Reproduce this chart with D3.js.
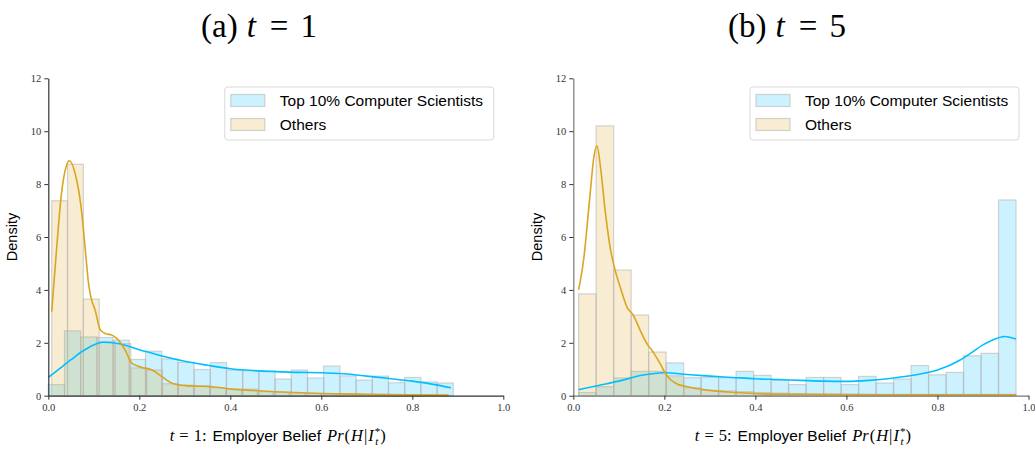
<!DOCTYPE html>
<html>
<head>
<meta charset="utf-8">
<script src="https://cdn.jsdelivr.net/npm/d3@7"></script>
<style>
  body { margin: 0; background: #fff; }
  svg { display: block; }
</style>
</head>
<body>
<div id="chart"></div>
<script>
// ---- data ----
const yTicks = [0, 2, 4, 6, 8, 10, 12];
const xTicks = [0.0, 0.2, 0.4, 0.6, 0.8, 1.0];
const seriesNames = ['Top 10% Computer Scientists', 'Others'];

// t = 1 histograms (density per bin), bins spread evenly over [lo, hi]
const t1TopRange = [0.0, 0.89];
const t1TopDensity = [0.42, 2.45, 2.22, 2.2, 2.1, 1.37, 1.68, 1.39, 1.26, 0.99, 1.25, 0.96,
  0.94, 0.94, 0.63, 0.97, 0.67, 1.12, 0.75, 0.59, 0.74, 0.49, 0.69, 0.52, 0.48];
const t1OthRange = [0.0075, 0.877];
const t1OthDensity = [7.37, 8.75, 3.65, 2.05, 1.97, 1.05, 0.97, 0.45, 0.4, 0.38, 0.3, 0.25,
  0.25, 0.15, 0.12, 0.1, 0.08, 0.06, 0.05, 0.04, 0.03, 0.03, 0.02, 0.02, 0.01];

// t = 1 KDE curves
const t1TopKdeX = [0.0, 0.025, 0.05, 0.075, 0.1, 0.12, 0.15, 0.2, 0.25, 0.3, 0.35, 0.4, 0.45,
  0.5, 0.55, 0.6, 0.65, 0.7, 0.75, 0.8, 0.85, 0.885];
const t1TopKdeY = [0.69, 1.02, 1.36, 1.68, 1.92, 2.02, 1.98, 1.74, 1.5, 1.3, 1.15, 1.02, 0.95,
  0.91, 0.88, 0.87, 0.83, 0.74, 0.65, 0.55, 0.42, 0.3];
const t1OthKdeX = [0.0075, 0.018, 0.029, 0.04, 0.046, 0.059, 0.073, 0.083, 0.088, 0.094, 0.103,
  0.114, 0.125, 0.14, 0.154, 0.169, 0.184, 0.206, 0.228, 0.25, 0.272, 0.301, 0.36, 0.404, 0.448,
  0.5, 0.57, 0.68, 0.79, 0.88];
const t1OthKdeY = [3.18, 5.5, 7.65, 8.7, 8.88, 8.4, 7.0, 5.2, 4.3, 3.7, 3.23, 2.5, 2.35, 2.29,
  2.1, 1.72, 1.22, 1.07, 0.97, 0.72, 0.47, 0.38, 0.34, 0.25, 0.2, 0.15, 0.1, 0.06, 0.03, 0.02];

// t = 5 histograms
const t5TopRange = [0.0117, 0.9726];
const t5TopDensity = [0.12, 0.34, 0.67, 0.92, 0.92, 1.24, 0.68, 0.7, 0.68, 0.92, 0.77, 0.58,
  0.42, 0.69, 0.69, 0.42, 0.73, 0.48, 0.63, 1.14, 0.79, 0.88, 1.51, 1.6, 7.4];
const t5OthRange = [0.0117, 0.9726];
const t5OthDensity = [3.85, 10.2, 4.75, 3.05, 1.65, 0.75, 0.3, 0.2, 0.18, 0.15, 0.12, 0.1,
  0.08, 0.06, 0.05, 0.05, 0.05, 0.05, 0.05, 0.05, 0.05, 0.05, 0.05, 0.05, 0.05];

// t = 5 KDE curves
const t5TopKdeX = [0.0117, 0.05, 0.1, 0.15, 0.2, 0.25, 0.3, 0.35, 0.4, 0.45, 0.5, 0.55, 0.6,
  0.65, 0.7, 0.75, 0.8, 0.85, 0.875, 0.9, 0.92, 0.948, 0.9726];
const t5TopKdeY = [0.23, 0.37, 0.55, 0.77, 0.87, 0.8, 0.74, 0.69, 0.64, 0.61, 0.58, 0.55, 0.54,
  0.58, 0.66, 0.78, 0.97, 1.35, 1.63, 1.92, 2.1, 2.24, 2.14];
const t5OthKdeX = [0.0117, 0.0226, 0.037, 0.045, 0.052, 0.06, 0.07, 0.081, 0.092, 0.103, 0.118,
  0.132, 0.147, 0.162, 0.176, 0.191, 0.206, 0.228, 0.25, 0.294, 0.359, 0.44, 0.55, 0.7, 0.85, 0.9726];
const t5OthKdeY = [4.0, 5.13, 7.64, 9.0, 9.45, 8.6, 7.0, 5.6, 4.74, 4.11, 3.35, 3.04, 2.47, 1.96,
  1.64, 1.2, 0.75, 0.44, 0.34, 0.21, 0.12, 0.06, 0.05, 0.03, 0.03, 0.03];

// ---- styling ----
const BLUE = '#00BFFF';
const GOLD = '#DAA520';
const W = 1035, H = 449;
const Y_TOP = 78.3, Y_BOT = 395.7;
const SERIF = '"Liberation Serif", serif';
const SANS = '"Liberation Sans", sans-serif';

const panels = [
  { letter: 'a', t: 1, x0: 48.3, x1: 503.3, titleX: 259, spineColor: '#333',
    top: { range: t1TopRange, dens: t1TopDensity, kx: t1TopKdeX, ky: t1TopKdeY },
    oth: { range: t1OthRange, dens: t1OthDensity, kx: t1OthKdeX, ky: t1OthKdeY } },
  { letter: 'b', t: 5, x0: 573.3, x1: 1028.5, titleX: 787, spineColor: '#777',
    top: { range: t5TopRange, dens: t5TopDensity, kx: t5TopKdeX, ky: t5TopKdeY },
    oth: { range: t5OthRange, dens: t5OthDensity, kx: t5OthKdeX, ky: t5OthKdeY } }
];

const svg = d3.select('#chart').append('svg')
  .attr('width', W).attr('height', H)
  .attr('viewBox', [0, 0, W, H]);

const y = d3.scaleLinear().domain([0, 12]).range([Y_BOT, Y_TOP]);

function drawHist(g, x, s, color) {
  const n = s.dens.length;
  const bw = (s.range[1] - s.range[0]) / n;
  g.append('g').selectAll('rect')
    .data(s.dens)
    .join('rect')
    .attr('x', (d, i) => x(s.range[0] + i * bw))
    .attr('width', x(bw) - x(0))
    .attr('y', d => y(d))
    .attr('height', d => y(0) - y(d))
    .attr('fill', color)
    .attr('fill-opacity', 0.2)
    .attr('stroke', '#b8b8b8')
    .attr('stroke-opacity', 0.6)
    .attr('stroke-width', 1.2);
}

function drawKde(g, x, s, color) {
  const pts = s.kx.map((v, i) => [v, s.ky[i]]);
  g.append('path')
    .datum(pts)
    .attr('fill', 'none')
    .attr('stroke', color)
    .attr('stroke-width', 1.6)
    .attr('d', d3.line().x(d => x(d[0])).y(d => y(d[1])).curve(d3.curveMonotoneX));
}

function addSpan(parent, text, opts = {}) {
  const s = parent.append('tspan')
    .style('font-family', opts.family || SERIF)
    .text(text);
  if (opts.italic) s.style('font-style', 'italic');
  if (opts.size) s.style('font-size', opts.size);
  if (opts.dx) s.attr('dx', opts.dx);
  if (opts.dy) s.attr('dy', opts.dy);
  return s;
}

panels.forEach(p => {
  const x = d3.scaleLinear().domain([0, 1]).range([p.x0, p.x1]);
  const g = svg.append('g');

  drawHist(g, x, p.top, BLUE);
  drawHist(g, x, p.oth, GOLD);
  drawKde(g, x, p.top, BLUE);
  drawKde(g, x, p.oth, GOLD);

  // axes
  const yAxis = g.append('g')
    .attr('transform', `translate(${p.x0},0)`)
    .call(d3.axisLeft(y).tickValues(yTicks).tickSize(4).tickPadding(3).tickSizeOuter(0));
  const xAxis = g.append('g')
    .attr('transform', `translate(0,${Y_BOT})`)
    .call(d3.axisBottom(x).tickValues(xTicks).tickFormat(d3.format('.1f')).tickSize(4).tickPadding(4).tickSizeOuter(0));
  [yAxis, xAxis].forEach(a => {
    a.select('.domain').attr('stroke', p.spineColor).attr('stroke-width', 1.2);
    a.selectAll('.tick line').attr('stroke', '#333');
    a.selectAll('.tick text')
      .attr('fill', '#333')
      .style('font-family', SERIF)
      .style('font-size', '10.5px');
  });

  // y label
  g.append('text')
    .attr('transform', `translate(${p.x0 - 31},${(Y_TOP + Y_BOT) / 2}) rotate(-90)`)
    .attr('text-anchor', 'middle')
    .style('font-family', SANS)
    .style('font-size', '14.5px')
    .text('Density');

  // x label
  const xl = g.append('text')
    .attr('x', (p.x0 + p.x1) / 2 + 2)
    .attr('y', 441)
    .attr('text-anchor', 'middle')
    .style('font-size', '16.5px');
  addSpan(xl, 't', { italic: true });
  addSpan(xl, '=', { dx: 5 });
  addSpan(xl, `${p.t}:`, { dx: 5 });
  addSpan(xl, 'Employer Belief', { family: SANS, size: '15.5px', dx: 6 });
  addSpan(xl, 'Pr', { italic: true, dx: 6 });
  addSpan(xl, '(', { dx: 1 });
  addSpan(xl, 'H', { italic: true, dx: 1 });
  addSpan(xl, '|', { dx: 1 });
  addSpan(xl, 'I', { italic: true, dx: 1 });
  addSpan(xl, '*', { size: '11px', dy: -6, dx: 1 });
  addSpan(xl, 't', { italic: true, size: '11px', dx: -5, dy: 10 });
  addSpan(xl, ')', { dy: -4, dx: 2 });

  // title
  const tt = svg.append('text')
    .attr('x', p.titleX)
    .attr('y', 37)
    .attr('text-anchor', 'middle')
    .style('font-size', '33px');
  addSpan(tt, `(${p.letter})`);
  addSpan(tt, 't', { italic: true, dx: 9 });
  addSpan(tt, '=', { dx: 14 });
  addSpan(tt, `${p.t}`, { dx: 12 });

  // legend
  const lx = p.x1 - 278.5, ly = 87;
  const lg = g.append('g').attr('transform', `translate(${lx},${ly})`);
  lg.append('rect')
    .attr('width', 269).attr('height', 53).attr('rx', 3)
    .attr('fill', '#fff').attr('fill-opacity', 0.8)
    .attr('stroke', '#d9d9d9');
  [BLUE, GOLD].forEach((c, i) => {
    lg.append('rect')
      .attr('x', 6).attr('y', 7.5 + i * 24)
      .attr('width', 34).attr('height', 12)
      .attr('fill', c).attr('fill-opacity', 0.2)
      .attr('stroke', '#b8b8b8').attr('stroke-opacity', 0.6).attr('stroke-width', 1.2);
    lg.append('text')
      .attr('x', 55).attr('y', 14 + i * 24)
      .attr('dy', '0.35em')
      .style('font-family', SANS)
      .style('font-size', '15.5px')
      .text(seriesNames[i]);
  });
});
</script>
</body>
</html>
